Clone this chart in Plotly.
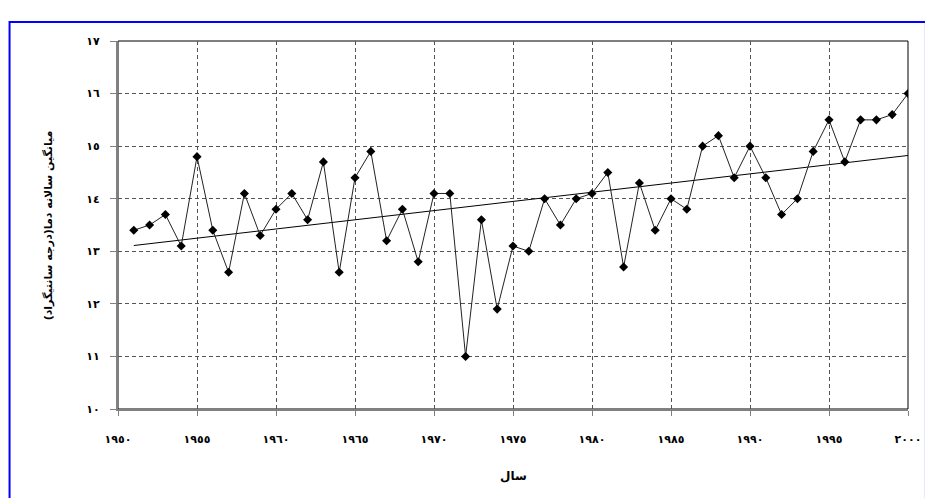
import numpy as np
import plotly.graph_objects as go

years = list(range(1951, 2001))
temps = [13.4, 13.5, 13.7, 13.1, 14.8, 13.4, 12.6, 14.1, 13.3, 13.8,
         14.1, 13.6, 14.7, 12.6, 14.4, 14.9, 13.2, 13.8, 12.8, 14.1,
         14.1, 11.0, 13.6, 11.9, 13.1, 13.0, 14.0, 13.5, 14.0, 14.1,
         14.5, 12.7, 14.3, 13.4, 14.0, 13.8, 15.0, 15.2, 14.4, 15.0,
         14.4, 13.7, 14.0, 14.9, 15.5, 14.7, 15.5, 15.5, 15.6, 16.0]

x_ticks = [1950, 1955, 1960, 1965, 1970, 1975, 1980, 1985, 1990, 1995, 2000]
x_labels = ["١٩٥٠", "١٩٥٥", "١٩٦٠", "١٩٦٥", "١٩٧٠", "١٩٧٥", "١٩٨٠", "١٩٨٥", "١٩٩٠", "١٩٩٥", "٢٠٠٠"]
y_ticks = [10, 11, 12, 13, 14, 15, 16, 17]
y_labels = ["١٠", "١١", "١٢", "١٣", "١٤", "١٥", "١٦", "١٧"]

x_title = "سال"
y_title = "میانگین سالانه دما(درجه سانتیگراد)"

slope, intercept = np.polyfit(years, temps, 1)
trend_x = [years[0], years[-1]]
trend_y = [slope * v + intercept for v in trend_x]

# page is offset by the default 8px body margin
OFF = 8
W, H = 933 - OFF, 498 - OFF
L, R, T, B = 118 - OFF, 21, 41 - OFF, 89
pw = W - L - R
ph = H - T - B

fig = go.Figure()
fig.add_trace(go.Scatter(x=trend_x, y=trend_y, mode="lines",
                         line=dict(color="black", width=1), hoverinfo="skip"))
fig.add_trace(go.Scatter(x=years, y=temps, mode="lines+markers",
                         line=dict(color="#222222", width=1),
                         marker=dict(symbol="diamond", size=7, color="black"),
                         hoverinfo="skip"))

tick_font = dict(family="DejaVu Sans", size=11, color="black", weight="bold")

fig.update_layout(
    width=W, height=H,
    margin=dict(l=L, r=R, t=T, b=B, pad=0),
    paper_bgcolor="white", plot_bgcolor="white",
    showlegend=False,
    xaxis=dict(range=[1950, 2000], tickvals=x_ticks, ticktext=x_labels,
               showgrid=True, gridcolor="#555555", griddash="4px,3px", gridwidth=1,
               showline=True, linecolor="#808080", linewidth=2,
               ticks="outside", ticklen=5, tickcolor="#808080", tickwidth=1,
               ticklabelstandoff=14, tickfont=tick_font, zeroline=False),
    yaxis=dict(range=[10, 17], tickvals=y_ticks, ticktext=y_labels,
               showgrid=True, gridcolor="#555555", griddash="4px,3px", gridwidth=1,
               showline=True, linecolor="#808080", linewidth=2,
               ticks="outside", ticklen=6, tickcolor="#808080", tickwidth=1,
               ticklabelstandoff=8, tickfont=tick_font, zeroline=False),
    shapes=[
        dict(type="rect", xref="paper", yref="paper", x0=0, x1=1, y0=0, y1=1,
             line=dict(color="black", width=1), layer="below"),
        dict(type="rect", xref="paper", yref="paper",
             x0=(1 - L) / pw, x1=(922 - L) / pw,
             y0=(H - B - 520) / ph, y1=(H - B - 14) / ph,
             line=dict(color="#0000FF", width=2)),
    ],
    annotations=[
        dict(text=x_title, xref="paper", yref="paper", x=0.5, y=-(468 - (H - B)) / ph,
             showarrow=False, xanchor="center", yanchor="middle",
             font=dict(family="DejaVu Sans", size=12, color="black", weight="bold")),
        dict(text=y_title, xref="paper", yref="paper", x=(40 - L) / pw, y=0.5,
             textangle=-90, showarrow=False, xanchor="center", yanchor="middle",
             font=dict(family="DejaVu Sans", size=11, color="black", weight="bold")),
    ],
)

fig.write_html("out.html")
